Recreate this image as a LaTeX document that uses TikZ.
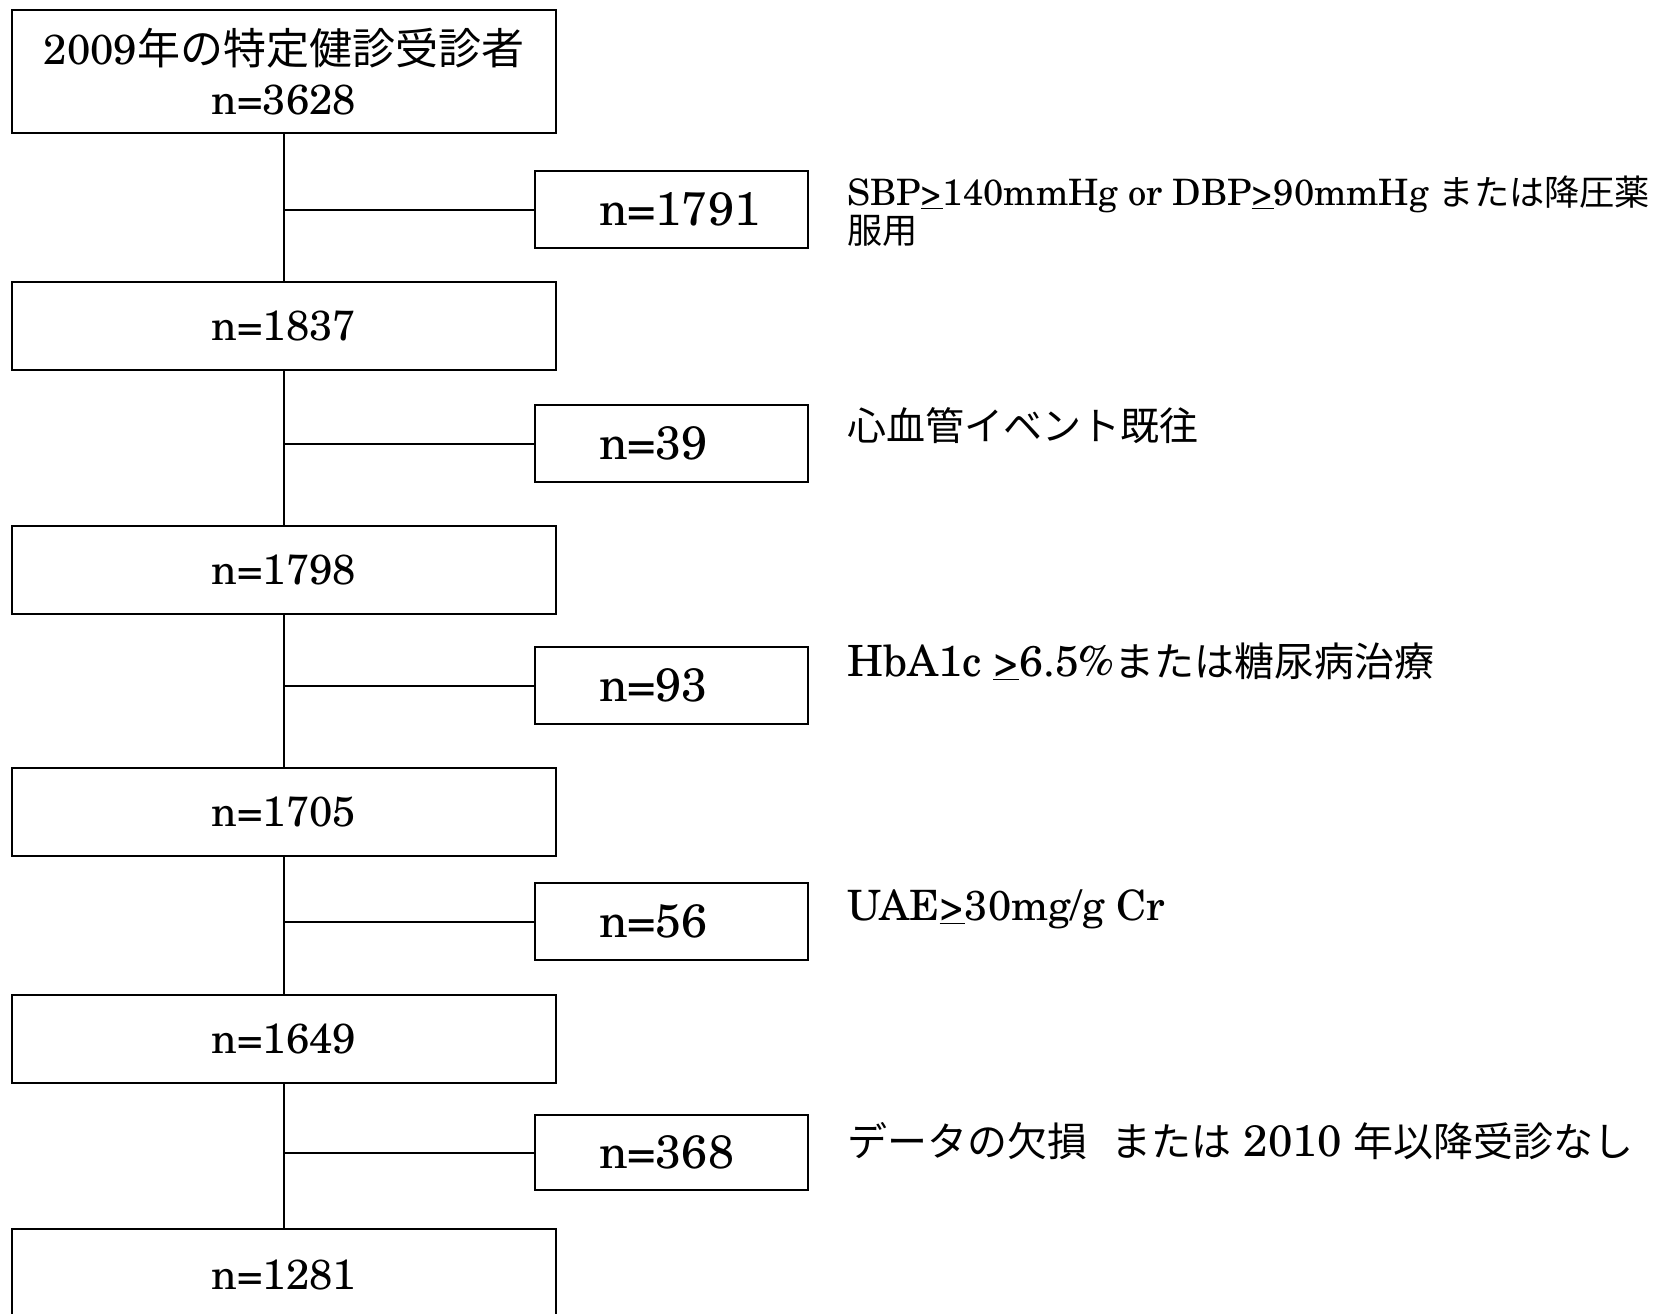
\documentclass[tikz,border=0pt]{standalone}
\usepackage{fontspec}
\setmainfont{TeX Gyre Schola}
\newfontfamily\jp{Noto Sans CJK JP}
\newcommand\gequ{\underline{>}}
\begin{document}
\begin{tikzpicture}[x=0.5pt,y=-0.5pt,
  mainbox/.style={draw,line width=1pt,minimum width=272pt,minimum height=44pt,inner sep=0pt,font=\fontsize{21}{25}\selectfont,align=center},
  sidebox/.style={draw,line width=1pt,minimum width=136.5pt,minimum height=38.5pt,inner sep=0pt,font=\fontsize{23.4}{28}\selectfont},
  lbl/.style={anchor=base west,inner sep=0pt,font=\fontsize{19.5}{22}\selectfont},
  conn/.style={line width=1pt}]
\useasboundingbox (0,0) rectangle (1671,1313);
% main boxes
\node[mainbox,minimum height=61.5pt] (b1) at (284,71.5) {2009{\jp\fontsize{21.5}{25}\selectfont 年の特定健診受診者}\\n=3628};
\node[mainbox] (b2) at (284,326) {n=1837};
\node[mainbox] (b3) at (284,570) {n=1798};
\node[mainbox] (b4) at (284,812) {n=1705};
\node[mainbox] (b5) at (284,1039) {n=1649};
\node[mainbox,minimum height=46pt] (b6) at (284,1275) {n=1281};
% side boxes
\node[sidebox] (s1) at (671.5,209.5) {\makebox[72.5pt][l]{n=1791}};
\node[sidebox] (s2) at (671.5,443.5) {\makebox[72.5pt][l]{n=39}};
\node[sidebox] (s3) at (671.5,685.5) {\makebox[72.5pt][l]{n=93}};
\node[sidebox] (s4) at (671.5,921.5) {\makebox[72.5pt][l]{n=56}};
\node[sidebox,minimum height=37.5pt] (s5) at (671.5,1152.5) {\makebox[72.5pt][l]{n=368}};
% connectors
\draw[conn] (b1) -- (b2);
\draw[conn] (b2) -- (b3);
\draw[conn] (b3) -- (b4);
\draw[conn] (b4) -- (b5);
\draw[conn] (b5) -- (b6);
\draw[conn] (b1.south |- s1.west) -- (s1.west);
\draw[conn] (b2.south |- s2.west) -- (s2.west);
\draw[conn] (b3.south |- s3.west) -- (s3.west);
\draw[conn] (b4.south |- s4.west) -- (s4.west);
\draw[conn] (b5.south |- s5.west) -- (s5.west);
% labels
\node[lbl,font=\fontsize{18.2}{21}\selectfont] (l1a) at (847,205) {SBP\gequ140mmHg or DBP\gequ90mmHg {\jp\fontsize{17.6}{21}\selectfont または降圧薬}};
\node[lbl] (l1b) at (847,243) {\jp\fontsize{17.6}{21}\selectfont 服用};
\node[lbl] (l2) at (847,440) {\jp 心血管イベント既往};
\node[lbl,font=\fontsize{21.5}{24}\selectfont] (l3) at (847,676) {HbA1c \gequ6.5\%{\jp\fontsize{20}{24}\selectfont または糖尿病治療}};
\node[lbl,font=\fontsize{20.9}{24}\selectfont] (l4) at (847,920) {UAE\gequ30mg/g Cr};
\node[lbl,font=\fontsize{22}{24}\selectfont] (l5) at (847,1156) {{\jp\fontsize{20}{22}\selectfont データの欠損\hspace{0.6em}または} 2010 {\jp\fontsize{20}{22}\selectfont 年以降受診なし}};
\end{tikzpicture}
\end{document}
